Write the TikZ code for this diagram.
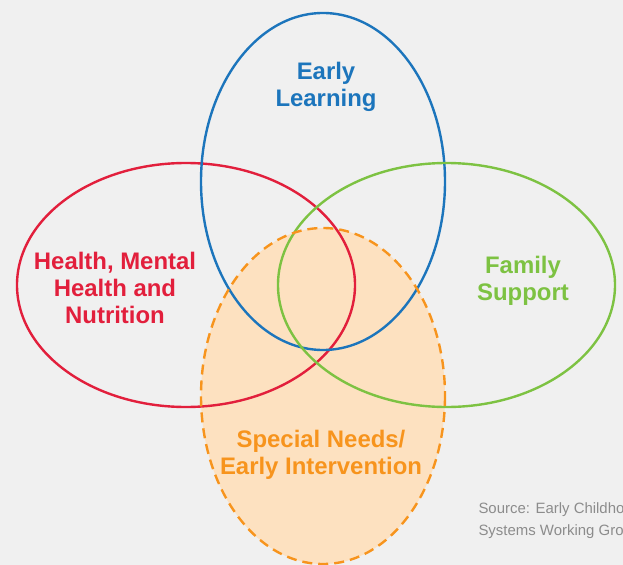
\documentclass[tikz,border=0pt]{standalone}
\usepackage{fontspec}
\setmainfont{Liberation Sans}
\usepackage{tikz}
\definecolor{bggray}{HTML}{F0F0F0}
\definecolor{elblue}{HTML}{1C75BC}
\definecolor{hnred}{HTML}{E21F3C}
\definecolor{fsgreen}{HTML}{7DC242}
\definecolor{snorange}{HTML}{F7941D}
\definecolor{snfill}{HTML}{FDE1C0}
\definecolor{srcgray}{HTML}{8C8C8C}

\begin{document}
\begin{tikzpicture}[x=1bp,y=-1bp]
\coordinate (el) at (323,181.5);
\coordinate (hn) at (186,285);
\coordinate (fs) at (446.5,285);
\coordinate (sn) at (323,396);
\useasboundingbox (0,0) rectangle (623,565);
\fill[bggray] (0,0) rectangle (623,565);
\clip (0,0) rectangle (623,565);
\begin{scope}[line width=2.4bp]
% fills special needs
\fill[snfill] (sn) ellipse [x radius=122, y radius=168];
% draws ellipses
\draw[hnred] (hn) ellipse [x radius=169, y radius=122];
\draw[elblue] (el) ellipse [x radius=122, y radius=168.5];
\draw[fsgreen] (fs) ellipse [x radius=168.5, y radius=122];
\draw[snorange, dash pattern=on 10bp off 6bp] (sn) ellipse [x radius=122, y radius=168];
\end{scope}
% labels ellipses
\begin{scope}[font=\bfseries\fontsize{24}{27}\selectfont, align=center]
\node[text=elblue] (ellabel) at (326,87) {Early\\Learning};
\node[text=hnred] (hnlabel) at (115,288) {Health, Mental\\Health and\\Nutrition};
\node[text=fsgreen] (fslabel) at (523,281) {Family\\Support};
\node[text=snorange] (snlabel) at (321,455) {Special Needs/\\Early Intervention};
\end{scope}
% source note
\node[text=srcgray, font=\fontsize{15}{22}\selectfont, align=left, anchor=west] (source) at (475,521) {Source: Early Childhood\\Systems Working Group};
\end{tikzpicture}
\end{document}
